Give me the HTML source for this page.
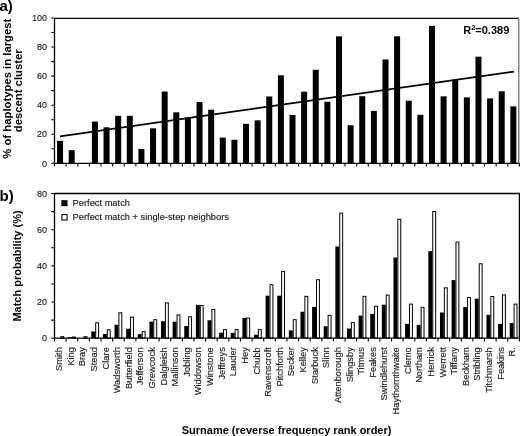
<!DOCTYPE html><html><head><meta charset="utf-8"><style>html,body{margin:0;padding:0;background:#fff;width:520px;height:436px;overflow:hidden}svg{display:block;will-change:transform}text{font-family:"Liberation Sans",sans-serif}.t{stroke:#222;stroke-width:0.16}</style></head><body>
<svg width="520" height="436" viewBox="0 0 520 436">
<rect width="520" height="436" fill="#fff"/>
<rect x="57.06" y="140.81" width="6" height="22.49" fill="#000"/>
<rect x="68.68" y="150.11" width="6" height="13.19" fill="#000"/>
<rect x="91.93" y="121.63" width="6" height="41.67" fill="#000"/>
<rect x="103.55" y="127.3" width="6" height="36" fill="#000"/>
<rect x="115.17" y="115.82" width="6" height="47.48" fill="#000"/>
<rect x="126.8" y="115.82" width="6" height="47.48" fill="#000"/>
<rect x="138.42" y="148.95" width="6" height="14.35" fill="#000"/>
<rect x="150.04" y="128.32" width="6" height="34.98" fill="#000"/>
<rect x="161.66" y="91.56" width="6" height="71.74" fill="#000"/>
<rect x="173.29" y="112.34" width="6" height="50.96" fill="#000"/>
<rect x="184.91" y="117.28" width="6" height="46.02" fill="#000"/>
<rect x="196.53" y="102.02" width="6" height="61.28" fill="#000"/>
<rect x="208.15" y="109.72" width="6" height="53.58" fill="#000"/>
<rect x="219.78" y="137.62" width="6" height="25.68" fill="#000"/>
<rect x="231.4" y="139.8" width="6" height="23.5" fill="#000"/>
<rect x="243.02" y="123.81" width="6" height="39.49" fill="#000"/>
<rect x="254.64" y="120.33" width="6" height="42.97" fill="#000"/>
<rect x="266.27" y="96.5" width="6" height="66.8" fill="#000"/>
<rect x="277.89" y="75.28" width="6" height="88.02" fill="#000"/>
<rect x="289.51" y="114.95" width="6" height="48.35" fill="#000"/>
<rect x="301.13" y="91.7" width="6" height="71.6" fill="#000"/>
<rect x="312.76" y="69.76" width="6" height="93.54" fill="#000"/>
<rect x="324.38" y="101.73" width="6" height="61.57" fill="#000"/>
<rect x="336" y="36.34" width="6" height="126.96" fill="#000"/>
<rect x="347.62" y="125.27" width="6" height="38.03" fill="#000"/>
<rect x="359.25" y="96.21" width="6" height="67.09" fill="#000"/>
<rect x="370.87" y="110.88" width="6" height="52.42" fill="#000"/>
<rect x="382.49" y="59.45" width="6" height="103.85" fill="#000"/>
<rect x="394.11" y="36.34" width="6" height="126.96" fill="#000"/>
<rect x="405.74" y="100.71" width="6" height="62.59" fill="#000"/>
<rect x="417.36" y="114.81" width="6" height="48.49" fill="#000"/>
<rect x="428.98" y="25.88" width="6" height="137.42" fill="#000"/>
<rect x="440.6" y="96.35" width="6" height="66.95" fill="#000"/>
<rect x="452.23" y="79.5" width="6" height="83.8" fill="#000"/>
<rect x="463.85" y="97.37" width="6" height="65.93" fill="#000"/>
<rect x="475.47" y="56.69" width="6" height="106.61" fill="#000"/>
<rect x="487.09" y="98.39" width="6" height="64.91" fill="#000"/>
<rect x="498.72" y="91.27" width="6" height="72.03" fill="#000"/>
<rect x="510.34" y="106.38" width="6" height="56.92" fill="#000"/>
<line x1="60" y1="136.3" x2="514" y2="71.6" stroke="#000" stroke-width="1.7"/>
<path d="M54.5 18.4 V163.3 H519.4 M54.5 18.4 H518.8" fill="none" stroke="#000" stroke-width="1.3"/>
<path d="M518.8 18.4 V163.3" fill="none" stroke="#666" stroke-width="1.2"/>
<path d="M51.2 163.3H54.5 M51.2 148.77H54.5 M51.2 134.24H54.5 M51.2 119.71H54.5 M51.2 105.18H54.5 M51.2 90.65H54.5 M51.2 76.12H54.5 M51.2 61.59H54.5 M51.2 47.06H54.5 M51.2 32.53H54.5 M51.2 18H54.5 M54.5 163.3V166.6 M66.12 163.3V166.6 M77.75 163.3V166.6 M89.37 163.3V166.6 M100.99 163.3V166.6 M112.61 163.3V166.6 M124.23 163.3V166.6 M135.86 163.3V166.6 M147.48 163.3V166.6 M159.1 163.3V166.6 M170.72 163.3V166.6 M182.35 163.3V166.6 M193.97 163.3V166.6 M205.59 163.3V166.6 M217.21 163.3V166.6 M228.84 163.3V166.6 M240.46 163.3V166.6 M252.08 163.3V166.6 M263.7 163.3V166.6 M275.33 163.3V166.6 M286.95 163.3V166.6 M298.57 163.3V166.6 M310.19 163.3V166.6 M321.82 163.3V166.6 M333.44 163.3V166.6 M345.06 163.3V166.6 M356.68 163.3V166.6 M368.31 163.3V166.6 M379.93 163.3V166.6 M391.55 163.3V166.6 M403.17 163.3V166.6 M414.8 163.3V166.6 M426.42 163.3V166.6 M438.04 163.3V166.6 M449.66 163.3V166.6 M461.29 163.3V166.6 M472.91 163.3V166.6 M484.53 163.3V166.6 M496.15 163.3V166.6 M507.78 163.3V166.6 M519.4 163.3V166.6" stroke="#000" stroke-width="1.1" fill="none"/>
<text x="47" y="166.5" font-size="9" text-anchor="end" fill="#222" class="t">0</text>
<text x="47" y="137.44" font-size="9" text-anchor="end" fill="#222" class="t">20</text>
<text x="47" y="108.38" font-size="9" text-anchor="end" fill="#222" class="t">40</text>
<text x="47" y="79.32" font-size="9" text-anchor="end" fill="#222" class="t">60</text>
<text x="47" y="50.26" font-size="9" text-anchor="end" fill="#222" class="t">80</text>
<text x="47" y="21.2" font-size="9" text-anchor="end" fill="#222" class="t">100</text>
<text x="463.2" y="33.9" font-size="11" font-weight="bold">R<tspan font-size="7.5" dy="-4.3">2</tspan><tspan dy="4.3">=0.389</tspan></text>
<rect x="60.81" y="336.67" width="2.9" height="1.53" fill="#fff" stroke="#000" stroke-width="1"/>
<rect x="68.03" y="337.26" width="3.9" height="0.94" fill="#000"/>
<rect x="72.43" y="337.03" width="2.9" height="1.17" fill="#fff" stroke="#000" stroke-width="1"/>
<rect x="84.06" y="336.67" width="2.9" height="1.53" fill="#fff" stroke="#000" stroke-width="1"/>
<rect x="91.28" y="331.47" width="3.9" height="6.73" fill="#000"/>
<rect x="95.68" y="322.74" width="2.9" height="15.46" fill="#fff" stroke="#000" stroke-width="1"/>
<rect x="102.9" y="334" width="3.9" height="4.2" fill="#000"/>
<rect x="107.3" y="329.8" width="2.9" height="8.4" fill="#fff" stroke="#000" stroke-width="1"/>
<rect x="114.52" y="324.78" width="3.9" height="13.42" fill="#000"/>
<rect x="118.92" y="312.8" width="2.9" height="25.4" fill="#fff" stroke="#000" stroke-width="1"/>
<rect x="126.15" y="328.76" width="3.9" height="9.44" fill="#000"/>
<rect x="130.55" y="317.14" width="2.9" height="21.06" fill="#fff" stroke="#000" stroke-width="1"/>
<rect x="137.77" y="334.18" width="3.9" height="4.02" fill="#000"/>
<rect x="142.17" y="331.61" width="2.9" height="6.59" fill="#fff" stroke="#000" stroke-width="1"/>
<rect x="149.39" y="321.7" width="3.9" height="16.5" fill="#000"/>
<rect x="153.79" y="319.67" width="2.9" height="18.53" fill="#fff" stroke="#000" stroke-width="1"/>
<rect x="161.01" y="321.16" width="3.9" height="17.04" fill="#000"/>
<rect x="165.41" y="302.85" width="2.9" height="35.35" fill="#fff" stroke="#000" stroke-width="1"/>
<rect x="172.64" y="321.7" width="3.9" height="16.5" fill="#000"/>
<rect x="177.04" y="314.97" width="2.9" height="23.23" fill="#fff" stroke="#000" stroke-width="1"/>
<rect x="184.26" y="326.04" width="3.9" height="12.16" fill="#000"/>
<rect x="188.66" y="316.78" width="2.9" height="21.42" fill="#fff" stroke="#000" stroke-width="1"/>
<rect x="195.88" y="304.88" width="3.9" height="33.32" fill="#000"/>
<rect x="200.28" y="305.56" width="2.9" height="32.64" fill="#fff" stroke="#000" stroke-width="1"/>
<rect x="207.5" y="320.26" width="3.9" height="17.94" fill="#000"/>
<rect x="211.9" y="309.36" width="2.9" height="28.84" fill="#fff" stroke="#000" stroke-width="1"/>
<rect x="219.13" y="332.74" width="3.9" height="5.46" fill="#000"/>
<rect x="223.53" y="329.62" width="2.9" height="8.58" fill="#fff" stroke="#000" stroke-width="1"/>
<rect x="230.75" y="332.92" width="3.9" height="5.28" fill="#000"/>
<rect x="235.15" y="329.62" width="2.9" height="8.58" fill="#fff" stroke="#000" stroke-width="1"/>
<rect x="242.37" y="317.9" width="3.9" height="20.3" fill="#000"/>
<rect x="246.77" y="318.04" width="2.9" height="20.16" fill="#fff" stroke="#000" stroke-width="1"/>
<rect x="253.99" y="334.73" width="3.9" height="3.47" fill="#000"/>
<rect x="258.39" y="329.62" width="2.9" height="8.58" fill="#fff" stroke="#000" stroke-width="1"/>
<rect x="265.62" y="295.66" width="3.9" height="42.54" fill="#000"/>
<rect x="270.02" y="284.76" width="2.9" height="53.44" fill="#fff" stroke="#000" stroke-width="1"/>
<rect x="277.24" y="295.66" width="3.9" height="42.54" fill="#000"/>
<rect x="281.64" y="271.38" width="2.9" height="66.82" fill="#fff" stroke="#000" stroke-width="1"/>
<rect x="288.86" y="330.38" width="3.9" height="7.82" fill="#000"/>
<rect x="293.26" y="319.67" width="2.9" height="18.53" fill="#fff" stroke="#000" stroke-width="1"/>
<rect x="300.48" y="311.75" width="3.9" height="26.45" fill="#000"/>
<rect x="304.88" y="296.34" width="2.9" height="41.86" fill="#fff" stroke="#000" stroke-width="1"/>
<rect x="312.11" y="306.87" width="3.9" height="31.33" fill="#000"/>
<rect x="316.51" y="279.7" width="2.9" height="58.5" fill="#fff" stroke="#000" stroke-width="1"/>
<rect x="323.73" y="326.22" width="3.9" height="11.98" fill="#000"/>
<rect x="328.13" y="315.33" width="2.9" height="22.87" fill="#fff" stroke="#000" stroke-width="1"/>
<rect x="335.35" y="246.46" width="3.9" height="91.74" fill="#000"/>
<rect x="339.75" y="213.13" width="2.9" height="125.07" fill="#fff" stroke="#000" stroke-width="1"/>
<rect x="346.97" y="328.58" width="3.9" height="9.62" fill="#000"/>
<rect x="351.37" y="322.56" width="2.9" height="15.64" fill="#fff" stroke="#000" stroke-width="1"/>
<rect x="358.6" y="315.55" width="3.9" height="22.65" fill="#000"/>
<rect x="363" y="296.34" width="2.9" height="41.86" fill="#fff" stroke="#000" stroke-width="1"/>
<rect x="370.22" y="313.92" width="3.9" height="24.28" fill="#000"/>
<rect x="374.62" y="306.29" width="2.9" height="31.91" fill="#fff" stroke="#000" stroke-width="1"/>
<rect x="381.84" y="304.7" width="3.9" height="33.5" fill="#000"/>
<rect x="386.24" y="295.07" width="2.9" height="43.13" fill="#fff" stroke="#000" stroke-width="1"/>
<rect x="393.46" y="257.49" width="3.9" height="80.71" fill="#000"/>
<rect x="397.86" y="219.28" width="2.9" height="118.92" fill="#fff" stroke="#000" stroke-width="1"/>
<rect x="405.09" y="323.87" width="3.9" height="14.33" fill="#000"/>
<rect x="409.49" y="304.11" width="2.9" height="34.09" fill="#fff" stroke="#000" stroke-width="1"/>
<rect x="416.71" y="324.96" width="3.9" height="13.24" fill="#000"/>
<rect x="421.11" y="307.37" width="2.9" height="30.83" fill="#fff" stroke="#000" stroke-width="1"/>
<rect x="428.33" y="251.16" width="3.9" height="87.04" fill="#000"/>
<rect x="432.73" y="211.51" width="2.9" height="126.69" fill="#fff" stroke="#000" stroke-width="1"/>
<rect x="439.95" y="312.48" width="3.9" height="25.72" fill="#000"/>
<rect x="444.35" y="287.84" width="2.9" height="50.36" fill="#fff" stroke="#000" stroke-width="1"/>
<rect x="451.58" y="280.1" width="3.9" height="58.1" fill="#000"/>
<rect x="455.98" y="242.07" width="2.9" height="96.13" fill="#fff" stroke="#000" stroke-width="1"/>
<rect x="463.2" y="307.05" width="3.9" height="31.15" fill="#000"/>
<rect x="467.6" y="297.6" width="2.9" height="40.6" fill="#fff" stroke="#000" stroke-width="1"/>
<rect x="474.82" y="298.73" width="3.9" height="39.47" fill="#000"/>
<rect x="479.22" y="263.78" width="2.9" height="74.42" fill="#fff" stroke="#000" stroke-width="1"/>
<rect x="486.44" y="314.83" width="3.9" height="23.37" fill="#000"/>
<rect x="490.84" y="296.52" width="2.9" height="41.68" fill="#fff" stroke="#000" stroke-width="1"/>
<rect x="498.07" y="323.87" width="3.9" height="14.33" fill="#000"/>
<rect x="502.47" y="294.89" width="2.9" height="43.31" fill="#fff" stroke="#000" stroke-width="1"/>
<rect x="509.69" y="322.97" width="3.9" height="15.23" fill="#000"/>
<rect x="514.09" y="304.11" width="2.9" height="34.09" fill="#fff" stroke="#000" stroke-width="1"/>
<path d="M54.5 193.5 V338.2 H519.4 M54.5 193.5 H519.4 V338.2" fill="none" stroke="#000" stroke-width="1.3"/>
<path d="M51.2 338.2H54.5 M51.2 320.11H54.5 M51.2 302.02H54.5 M51.2 283.94H54.5 M51.2 265.85H54.5 M51.2 247.76H54.5 M51.2 229.68H54.5 M51.2 211.59H54.5 M51.2 193.5H54.5 M54.5 338.2V341.5 M66.12 338.2V341.5 M77.75 338.2V341.5 M89.37 338.2V341.5 M100.99 338.2V341.5 M112.61 338.2V341.5 M124.23 338.2V341.5 M135.86 338.2V341.5 M147.48 338.2V341.5 M159.1 338.2V341.5 M170.72 338.2V341.5 M182.35 338.2V341.5 M193.97 338.2V341.5 M205.59 338.2V341.5 M217.21 338.2V341.5 M228.84 338.2V341.5 M240.46 338.2V341.5 M252.08 338.2V341.5 M263.7 338.2V341.5 M275.33 338.2V341.5 M286.95 338.2V341.5 M298.57 338.2V341.5 M310.19 338.2V341.5 M321.82 338.2V341.5 M333.44 338.2V341.5 M345.06 338.2V341.5 M356.68 338.2V341.5 M368.31 338.2V341.5 M379.93 338.2V341.5 M391.55 338.2V341.5 M403.17 338.2V341.5 M414.8 338.2V341.5 M426.42 338.2V341.5 M438.04 338.2V341.5 M449.66 338.2V341.5 M461.29 338.2V341.5 M472.91 338.2V341.5 M484.53 338.2V341.5 M496.15 338.2V341.5 M507.78 338.2V341.5 M519.4 338.2V341.5" stroke="#000" stroke-width="1.1" fill="none"/>
<text x="47" y="341.4" font-size="9" text-anchor="end" fill="#222" class="t">0</text>
<text x="47" y="305.22" font-size="9" text-anchor="end" fill="#222" class="t">20</text>
<text x="47" y="269.05" font-size="9" text-anchor="end" fill="#222" class="t">40</text>
<text x="47" y="232.88" font-size="9" text-anchor="end" fill="#222" class="t">60</text>
<text x="47" y="196.7" font-size="9" text-anchor="end" fill="#222" class="t">80</text>
<rect x="61.3" y="200.2" width="6.2" height="6" fill="#000"/>
<rect x="61.9" y="214.6" width="5.2" height="5.4" fill="#fff" stroke="#000" stroke-width="1.1"/>
<text x="72.6" y="205.6" font-size="9.3" fill="#222" class="t">Perfect match</text>
<text x="72.6" y="219.7" font-size="9.3" fill="#222" class="t">Perfect match + single-step neighbors</text>
<text transform="translate(62.01,347.2) rotate(-90)" font-size="9.3" text-anchor="end" fill="#222" class="t">Smith</text>
<text transform="translate(73.63,347.2) rotate(-90)" font-size="9.3" text-anchor="end" fill="#222" class="t">King</text>
<text transform="translate(85.26,347.2) rotate(-90)" font-size="9.3" text-anchor="end" fill="#222" class="t">Bray</text>
<text transform="translate(96.88,347.2) rotate(-90)" font-size="9.3" text-anchor="end" fill="#222" class="t">Stead</text>
<text transform="translate(108.5,347.2) rotate(-90)" font-size="9.3" text-anchor="end" fill="#222" class="t">Clare</text>
<text transform="translate(120.12,347.2) rotate(-90)" font-size="9.3" text-anchor="end" fill="#222" class="t">Wadsworth</text>
<text transform="translate(131.75,347.2) rotate(-90)" font-size="9.3" text-anchor="end" fill="#222" class="t">Butterfield</text>
<text transform="translate(143.37,347.2) rotate(-90)" font-size="9.3" text-anchor="end" fill="#222" class="t">Jefferson</text>
<text transform="translate(154.99,347.2) rotate(-90)" font-size="9.3" text-anchor="end" fill="#222" class="t">Grewcock</text>
<text transform="translate(166.61,347.2) rotate(-90)" font-size="9.3" text-anchor="end" fill="#222" class="t">Dalgleish</text>
<text transform="translate(178.24,347.2) rotate(-90)" font-size="9.3" text-anchor="end" fill="#222" class="t">Mallinson</text>
<text transform="translate(189.86,347.2) rotate(-90)" font-size="9.3" text-anchor="end" fill="#222" class="t">Jobling</text>
<text transform="translate(201.48,347.2) rotate(-90)" font-size="9.3" text-anchor="end" fill="#222" class="t">Widdowson</text>
<text transform="translate(213.1,347.2) rotate(-90)" font-size="9.3" text-anchor="end" fill="#222" class="t">Winstone</text>
<text transform="translate(224.73,347.2) rotate(-90)" font-size="9.3" text-anchor="end" fill="#222" class="t">Jeffreys</text>
<text transform="translate(236.35,347.2) rotate(-90)" font-size="9.3" text-anchor="end" fill="#222" class="t">Lauder</text>
<text transform="translate(247.97,347.2) rotate(-90)" font-size="9.3" text-anchor="end" fill="#222" class="t">Hey</text>
<text transform="translate(259.59,347.2) rotate(-90)" font-size="9.3" text-anchor="end" fill="#222" class="t">Chubb</text>
<text transform="translate(271.22,347.2) rotate(-90)" font-size="9.3" text-anchor="end" fill="#222" class="t">Ravenscroft</text>
<text transform="translate(282.84,347.2) rotate(-90)" font-size="9.3" text-anchor="end" fill="#222" class="t">Pitchforth</text>
<text transform="translate(294.46,347.2) rotate(-90)" font-size="9.3" text-anchor="end" fill="#222" class="t">Secker</text>
<text transform="translate(306.08,347.2) rotate(-90)" font-size="9.3" text-anchor="end" fill="#222" class="t">Kelley</text>
<text transform="translate(317.71,347.2) rotate(-90)" font-size="9.3" text-anchor="end" fill="#222" class="t">Starbuck</text>
<text transform="translate(329.33,347.2) rotate(-90)" font-size="9.3" text-anchor="end" fill="#222" class="t">Slinn</text>
<text transform="translate(340.95,347.2) rotate(-90)" font-size="9.3" text-anchor="end" fill="#222" class="t">Attenborough</text>
<text transform="translate(352.57,347.2) rotate(-90)" font-size="9.3" text-anchor="end" fill="#222" class="t">Slingsby</text>
<text transform="translate(364.2,347.2) rotate(-90)" font-size="9.3" text-anchor="end" fill="#222" class="t">Titmus</text>
<text transform="translate(375.82,347.2) rotate(-90)" font-size="9.3" text-anchor="end" fill="#222" class="t">Feakes</text>
<text transform="translate(387.44,347.2) rotate(-90)" font-size="9.3" text-anchor="end" fill="#222" class="t">Swindlehurst</text>
<text transform="translate(399.06,347.2) rotate(-90)" font-size="9.3" text-anchor="end" fill="#222" class="t">Haythornthwaite</text>
<text transform="translate(410.69,347.2) rotate(-90)" font-size="9.3" text-anchor="end" fill="#222" class="t">Clemo</text>
<text transform="translate(422.31,347.2) rotate(-90)" font-size="9.3" text-anchor="end" fill="#222" class="t">Northam</text>
<text transform="translate(433.93,347.2) rotate(-90)" font-size="9.3" text-anchor="end" fill="#222" class="t">Herrick</text>
<text transform="translate(445.55,347.2) rotate(-90)" font-size="9.3" text-anchor="end" fill="#222" class="t">Werrett</text>
<text transform="translate(457.18,347.2) rotate(-90)" font-size="9.3" text-anchor="end" fill="#222" class="t">Tiffany</text>
<text transform="translate(468.8,347.2) rotate(-90)" font-size="9.3" text-anchor="end" fill="#222" class="t">Beckham</text>
<text transform="translate(480.42,347.2) rotate(-90)" font-size="9.3" text-anchor="end" fill="#222" class="t">Stribling</text>
<text transform="translate(492.04,347.2) rotate(-90)" font-size="9.3" text-anchor="end" fill="#222" class="t">Titchmarsh</text>
<text transform="translate(503.67,347.2) rotate(-90)" font-size="9.3" text-anchor="end" fill="#222" class="t">Feakins</text>
<text transform="translate(515.29,347.2) rotate(-90)" font-size="9.3" text-anchor="end" fill="#222" class="t">R.</text>
<text x="-0.6" y="10.6" font-size="15" font-weight="bold">a)</text>
<text x="-0.5" y="200.6" font-size="15" font-weight="bold">b)</text>
<text transform="translate(10.6,88.7) rotate(-90)" font-size="11.3" font-weight="bold" text-anchor="middle">% of haplotypes in largest</text>
<text transform="translate(22.2,90.8) rotate(-90)" font-size="11.3" font-weight="bold" text-anchor="middle">descent cluster</text>
<text transform="translate(20.9,266) rotate(-90)" font-size="11" font-weight="bold" text-anchor="middle">Match probability (%)</text>
<text x="286.6" y="434" font-size="11" font-weight="bold" text-anchor="middle">Surname (reverse frequency rank order)</text>
</svg></body></html>
